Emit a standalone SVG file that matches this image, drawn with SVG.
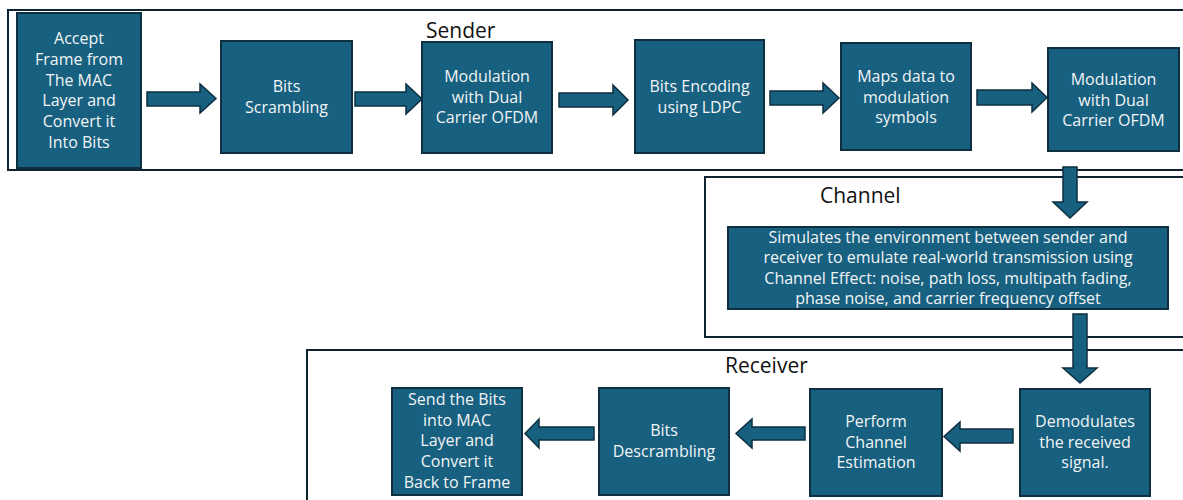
<svg xmlns="http://www.w3.org/2000/svg" width="1183" height="500" viewBox="0 0 1183 500">
  <style>
    .frame { fill: none; stroke: #0e2433; stroke-width: 2; }
    .box { fill: #17607f; stroke: #0d2f40; stroke-width: 2; }
    .arrow { fill: #17607f; stroke: #0d2f40; stroke-width: 1.5; stroke-linejoin: miter; }
    .t { fill: #f2f4f6; font-family: "Open Sans", "Liberation Sans", sans-serif; font-size: 16px; text-anchor: middle; }
    .lbl { fill: #111; font-family: "Open Sans", "Liberation Sans", sans-serif; font-size: 21px; }
  </style>
  <rect width="1183" height="500" fill="#ffffff"/>

  <!-- section frames -->
  <g id="sections">
    <rect class="frame" x="8" y="10" width="1190" height="160"/>
    <text class="lbl" x="426" y="38">Sender</text>
    <rect class="frame" x="705" y="177" width="490" height="160"/>
    <text class="lbl" x="820" y="203">Channel</text>
    <rect class="frame" x="307" y="350" width="890" height="160"/>
    <text class="lbl" x="725" y="373">Receiver</text>
  </g>

  <!-- sender chain -->
  <g id="accept-frame">
    <rect class="box" x="17" y="13" width="124" height="155"/>
    <text class="t"><tspan x="79" y="44">Accept</tspan><tspan x="79" y="64.8">Frame from</tspan><tspan x="79" y="85.6">The MAC</tspan><tspan x="79" y="106.4">Layer and</tspan><tspan x="79" y="127.2">Convert it</tspan><tspan x="79" y="148">Into Bits</tspan></text>
  </g>
  <g id="bits-scrambling">
    <rect class="box" x="221" y="41" width="131" height="112"/>
    <text class="t"><tspan x="286.5" y="92">Bits</tspan><tspan x="286.5" y="112.5">Scrambling</tspan></text>
  </g>
  <g id="modulation-1">
    <rect class="box" x="422" y="42" width="130" height="111"/>
    <text class="t"><tspan x="487" y="82">Modulation</tspan><tspan x="487" y="102.5">with Dual</tspan><tspan x="487" y="123">Carrier OFDM</tspan></text>
  </g>
  <g id="ldpc-encoding">
    <rect class="box" x="635" y="40" width="129" height="113"/>
    <text class="t"><tspan x="699.5" y="92">Bits Encoding</tspan><tspan x="699.5" y="112.5">using LDPC</tspan></text>
  </g>
  <g id="symbol-mapping">
    <rect class="box" x="841" y="43" width="130" height="107"/>
    <text class="t"><tspan x="906" y="82">Maps data to</tspan><tspan x="906" y="102.5">modulation</tspan><tspan x="906" y="123">symbols</tspan></text>
  </g>
  <g id="modulation-2">
    <rect class="box" x="1048" y="48" width="131" height="103"/>
    <text class="t"><tspan x="1113.5" y="85">Modulation</tspan><tspan x="1113.5" y="105.5">with Dual</tspan><tspan x="1113.5" y="126">Carrier OFDM</tspan></text>
  </g>

  <!-- channel model -->
  <g id="channel-model">
    <rect class="box" x="728" y="227" width="440" height="82"/>
    <text class="t"><tspan x="948" y="242.5">Simulates the environment between sender and</tspan><tspan x="948" y="263">receiver to emulate real-world transmission using</tspan><tspan x="948" y="283.5">Channel Effect: noise, path loss, multipath fading,</tspan><tspan x="948" y="304">phase noise, and carrier frequency offset</tspan></text>
  </g>

  <!-- receiver chain -->
  <g id="demodulation">
    <rect class="box" x="1020" y="389" width="130" height="107"/>
    <text class="t"><tspan x="1085" y="427">Demodulates</tspan><tspan x="1085" y="447.5">the received</tspan><tspan x="1085" y="468">signal.</tspan></text>
  </g>
  <g id="channel-estimation">
    <rect class="box" x="810" y="389" width="132" height="107"/>
    <text class="t"><tspan x="876" y="427">Perform</tspan><tspan x="876" y="447.5">Channel</tspan><tspan x="876" y="468">Estimation</tspan></text>
  </g>
  <g id="bits-descrambling">
    <rect class="box" x="599" y="388" width="130" height="107"/>
    <text class="t"><tspan x="664" y="436">Bits</tspan><tspan x="664" y="456.5">Descrambling</tspan></text>
  </g>
  <g id="send-to-mac">
    <rect class="box" x="392" y="388" width="130" height="107"/>
    <text class="t"><tspan x="457" y="405">Send the Bits</tspan><tspan x="457" y="425.7">into MAC</tspan><tspan x="457" y="446.4">Layer and</tspan><tspan x="457" y="467.1">Convert it</tspan><tspan x="457" y="487.8">Back to Frame</tspan></text>
  </g>

  <!-- block arrows -->
  <g id="connectors">
    <polygon class="arrow" points="147,92 200,92 200,84 216,98.5 200,113 200,106 147,106"/>
    <polygon class="arrow" points="355,92 406,92 406,84 422,99 406,114 406,106 355,106"/>
    <polygon class="arrow" points="559,93 613,93 613,85 628,100 613,115 613,107 559,107"/>
    <polygon class="arrow" points="770,91 823,91 823,83 839,98 823,113 823,105 770,105"/>
    <polygon class="arrow" points="977,90 1032,90 1032,83 1047,97.5 1032,112 1032,105 977,105"/>
    <polygon class="arrow" points="1063,167 1077,167 1077,202 1087,202 1070,218 1053,202 1063,202"/>
    <polygon class="arrow" points="1073,314 1087,314 1087,368 1097,368 1080,383 1063,368 1073,368"/>
    <polygon class="arrow" points="1013,429 960,429 960,422 944,436.5 960,451 960,443 1013,443"/>
    <polygon class="arrow" points="805,427 752,427 752,419 736,433.5 752,448 752,440 805,440"/>
    <polygon class="arrow" points="594,427 539,427 539,419 525,433.5 539,448 539,440 594,440"/>
  </g>
</svg>
